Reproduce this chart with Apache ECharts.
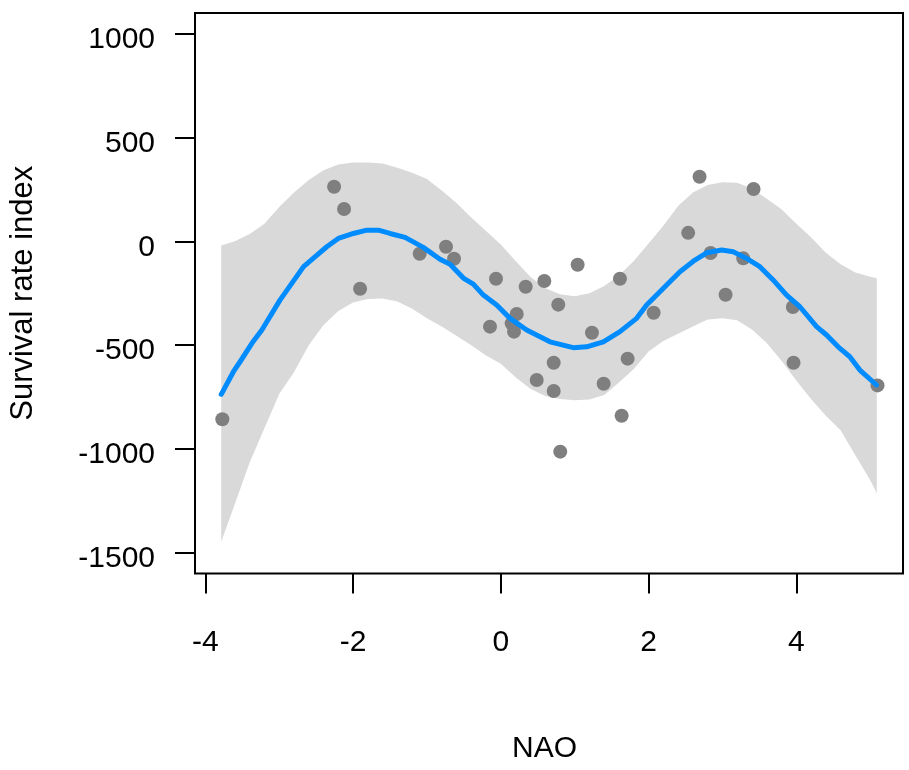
<!DOCTYPE html>
<html>
<head>
<meta charset="utf-8">
<script src="https://cdn.jsdelivr.net/npm/echarts@6/dist/echarts.min.js"></script>
<style>
  html, body { margin: 0; padding: 0; background: #fff; }
  #chart { width: 909px; height: 770px; }
</style>
</head>
<body>
<div id="chart"></div>
<script>
// Observed NAO index vs. survival rate index
const obsNAO = [-3.77, -2.257, -2.122, -1.905, -1.098, -0.742, -0.633, -0.146, -0.065, 0.147,
  0.179, 0.215, 0.337, 0.486, 0.589, 0.716, 0.716, 0.778, 0.805, 1.04,
  1.234, 1.392, 1.613, 1.636, 1.717, 2.069, 2.537, 2.691, 2.84, 3.043,
  3.282, 3.422, 3.954, 3.963, 5.10];
const obsSurvival = [-857, 263, 156, -228, -60, -26, -84, -411, -180, -395,
  -435, -350, -219, -668, -191, -585, -721, -305, -1013, -113,
  -440, -686, -180, -840, -565, -344, 41, 311, -56, -257,
  -82, 252, -316, -585, -694];

// Smoothed fit
const fitNAO = [-3.785, -3.62, -3.53, -3.37, -3.235, -2.99, -2.67, -2.54, -2.356, -2.2,
  -1.996, -1.815, -1.657, -1.5, -1.296, -1.049, -0.823, -0.687, -0.507, -0.372,
  -0.236, -0.056, 0.125, 0.35, 0.666, 0.981, 1.162, 1.388, 1.613, 1.839,
  1.974, 2.245, 2.425, 2.628, 2.786, 2.99, 3.146, 3.327, 3.507, 3.687,
  3.869, 4.049, 4.275, 4.41, 4.567, 4.725, 4.861, 5.087];
const fitSurvival = [-737, -628, -580, -491, -427, -283, -122, -82, -26, 14,
  38, 54, 54, 38, 19, -29, -86, -110, -177, -206,
  -259, -307, -371, -427, -484, -512, -508, -484, -435, -371,
  -307, -210, -146, -90, -55, -42, -50, -82, -122, -186,
  -259, -315, -411, -451, -508, -556, -620, -692];

// Confidence band of the fit
const bandNAO = [-3.785, -3.6, -3.4, -3.2, -3.0, -2.8, -2.6, -2.4, -2.2, -2.0,
  -1.8, -1.6, -1.4, -1.2, -1.0, -0.8, -0.6, -0.4, -0.2, 0,
  0.2, 0.4, 0.6, 0.8, 1.0, 1.2, 1.4, 1.6, 1.8, 2.0,
  2.2, 2.4, 2.6, 2.8, 3.0, 3.2, 3.4, 3.6, 3.8, 4.0,
  4.2, 4.4, 4.6, 4.8, 5.0, 5.09];
const bandUpper = [-20, 0, 35, 85, 165, 235, 295, 343, 370, 380,
  380, 375, 355, 330, 300, 245, 185, 115, 50, -15,
  -95, -170, -225, -255, -265, -250, -215, -165, -95, -10,
  75, 170, 235, 272, 285, 282, 255, 205, 155, 85,
  20, -55, -110, -150, -170, -178];
const bandLower = [-1447, -1265, -1065, -900, -735, -630, -500, -403, -335, -295,
  -278, -275, -290, -325, -371, -410, -455, -500, -550, -590,
  -655, -710, -745, -760, -765, -762, -740, -680, -615, -530,
  -480, -445, -410, -376, -370, -380, -425, -490, -575, -670,
  -760, -840, -910, -1030, -1150, -1214];

const xTicks = [-4, -2, 0, 2, 4];
const yTicks = [-1500, -1000, -500, 0, 500, 1000];

const FONT = '"Liberation Sans", Arial, Helvetica, sans-serif';

const chart = echarts.init(document.getElementById('chart'), null, { renderer: 'canvas' });

const zip = (a, b) => a.map((v, i) => [v, b[i]]);

// Band polygon: upper edge left to right, then lower edge right to left
function renderBand(params, api) {
  if (params.dataIndex !== 0) return null;
  const pts = [];
  for (let i = 0; i < bandNAO.length; i++) pts.push(api.coord([bandNAO[i], bandUpper[i]]));
  for (let i = bandNAO.length - 1; i >= 0; i--) pts.push(api.coord([bandNAO[i], bandLower[i]]));
  return {
    type: 'polygon',
    shape: { points: pts },
    style: { fill: '#d9d9d9', stroke: null },
    silent: true
  };
}

chart.setOption({
  animation: false,
  backgroundColor: '#ffffff',
  grid: {
    left: 195, top: 13, width: 708, height: 560.5,
    show: true, borderColor: '#000', borderWidth: 2, backgroundColor: 'transparent'
  },
  xAxis: {
    type: 'value',
    min: -4.14, max: 5.445,
    name: 'NAO',
    nameLocation: 'middle',
    nameGap: 160,
    nameTextStyle: { fontFamily: FONT, fontSize: 30, color: '#000', padding: [0, 9, 0, 0] },
    axisLine: { show: false, onZero: false },
    splitLine: { show: false },
    axisTick: {
      show: true, inside: false, length: 20,
      customValues: xTicks,
      lineStyle: { color: '#000', width: 2 }
    },
    axisLabel: {
      customValues: xTicks,
      margin: 54,
      fontFamily: FONT, fontSize: 30, color: '#000',
      formatter: v => String(v)
    }
  },
  yAxis: {
    type: 'value',
    min: -1600, max: 1100,
    name: 'Survival rate index',
    nameLocation: 'middle',
    nameRotate: 90,
    nameGap: 156,
    nameTextStyle: { fontFamily: FONT, fontSize: 31, color: '#000' },
    axisLine: { show: false, onZero: false },
    splitLine: { show: false },
    axisTick: {
      show: true, inside: false, length: 20,
      customValues: yTicks,
      lineStyle: { color: '#000', width: 2 }
    },
    axisLabel: {
      customValues: yTicks,
      margin: 40,
      verticalAlign: 'top',
      lineHeight: 12,
      fontFamily: FONT, fontSize: 30, color: '#000',
      formatter: v => String(v)
    }
  },
  series: [
    {
      name: 'band',
      type: 'custom',
      renderItem: renderBand,
      data: zip(bandNAO, bandUpper),
      silent: true,
      clip: true,
      z: 1
    },
    {
      name: 'observed',
      type: 'scatter',
      data: zip(obsNAO, obsSurvival),
      symbol: 'circle',
      symbolSize: 14,
      itemStyle: { color: '#7f7f7f', opacity: 1 },
      z: 3
    },
    {
      name: 'fit',
      type: 'line',
      data: zip(fitNAO, fitSurvival),
      symbol: 'none',
      smooth: false,
      lineStyle: { color: '#008cff', width: 5, cap: 'round', join: 'round' },
      z: 4
    }
  ]
});
</script>
</body>
</html>
